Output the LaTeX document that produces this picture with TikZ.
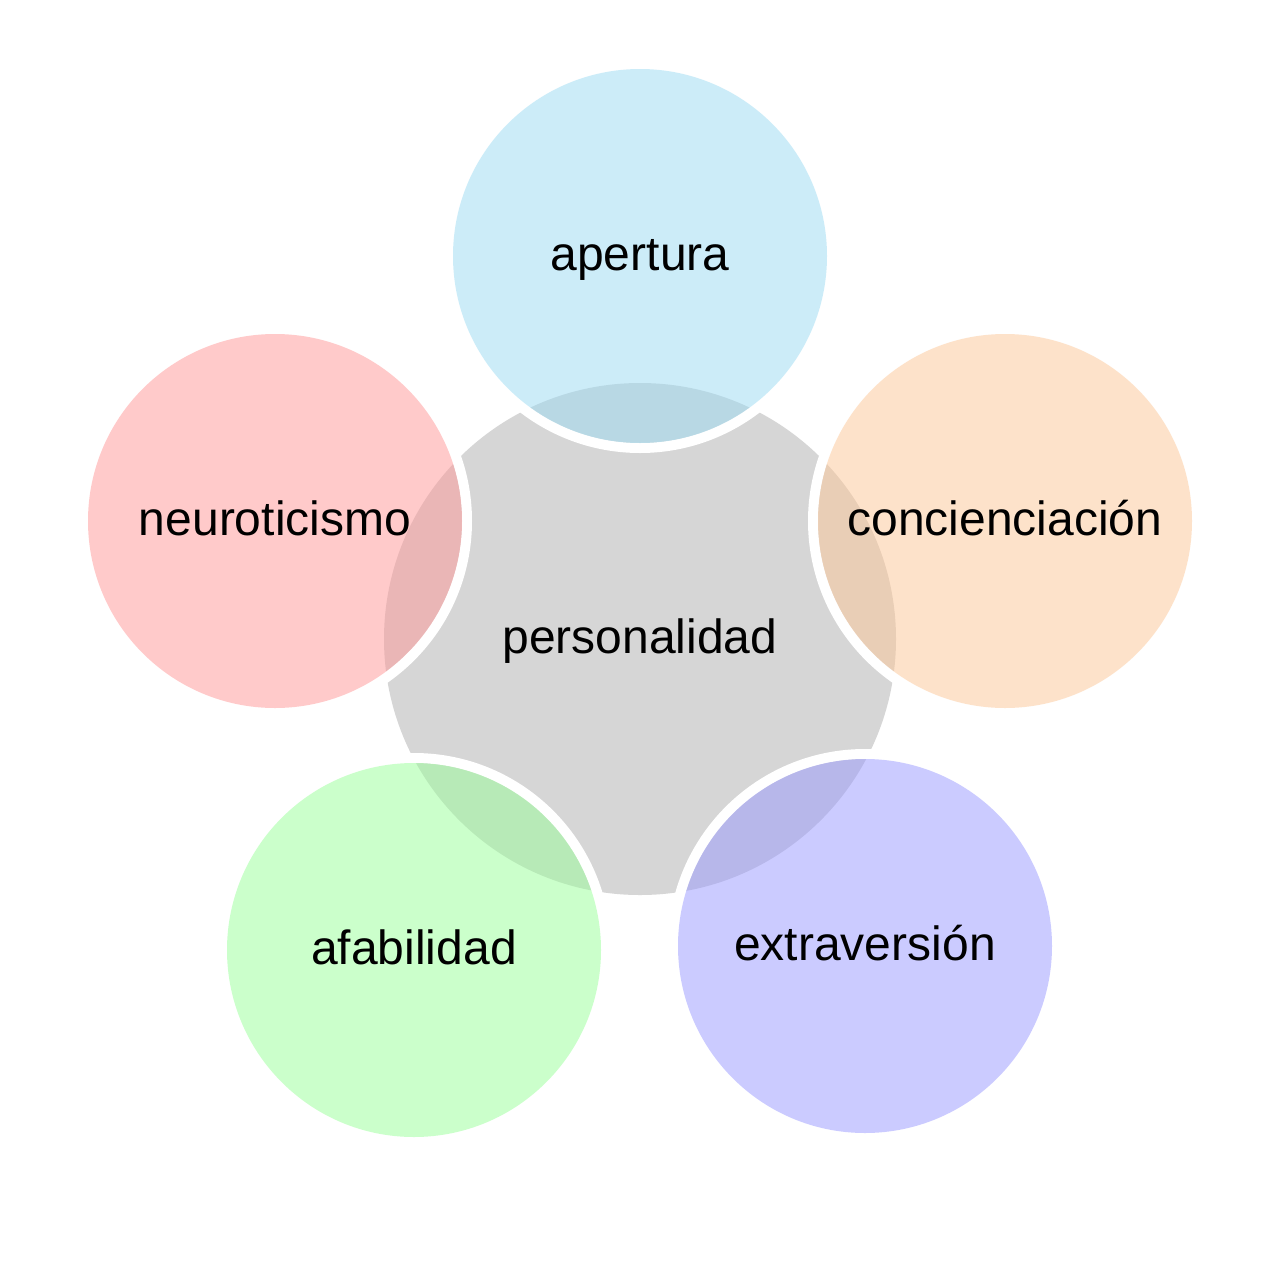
\documentclass[tikz,border=0pt]{standalone}
\usepackage{fontspec}
\setmainfont{Liberation Sans}
\definecolor{cgray}{HTML}{D6D6D6}
\definecolor{cblue}{HTML}{9BDBF3}
\definecolor{corange}{HTML}{FDC797}
\definecolor{cred}{HTML}{FF9797}
\definecolor{cgreen}{HTML}{99FF99}
\definecolor{cpurple}{HTML}{9999FF}
\tikzset{
  bubble/.style={circle, inner sep=0pt, minimum size=374pt, fill opacity=0.5, text opacity=1, text height=34pt, text depth=6pt, font=\fontsize{48}{58}\selectfont},
  hub/.style={circle, inner sep=0pt, minimum size=512pt, fill=cgray, text height=34pt, text depth=6pt, font=\fontsize{48}{58}\selectfont},
  ring/.style={fill=white, even odd rule}
}
\begin{document}
\begin{tikzpicture}[x=1pt,y=-1pt]
\useasboundingbox (0,0) rectangle (1280,1280);
\fill[white] (0,0) rectangle (1280,1280);
\coordinate (cap) at (640,256);
\coordinate (cco) at (1005,521);
\coordinate (cex) at (865,946);
\coordinate (caf) at (414,950);
\coordinate (cne) at (275,521);
\node[hub] (pe) at (640,639) {personalidad};
\foreach \c in {cap,cco,cex,caf,cne}{
  \fill[ring] (\c) circle (197) (\c) circle (187);
}
\node[bubble, fill=cblue] (ap) at (cap) {apertura};
\node[bubble, fill=corange] (co) at (cco) {concienciación};
\node[bubble, fill=cpurple] (ex) at (cex) {extraversión};
\node[bubble, fill=cgreen] (af) at (caf) {afabilidad};
\node[bubble, fill=cred] (ne) at (cne) {neuroticismo};
\end{tikzpicture}
\end{document}
